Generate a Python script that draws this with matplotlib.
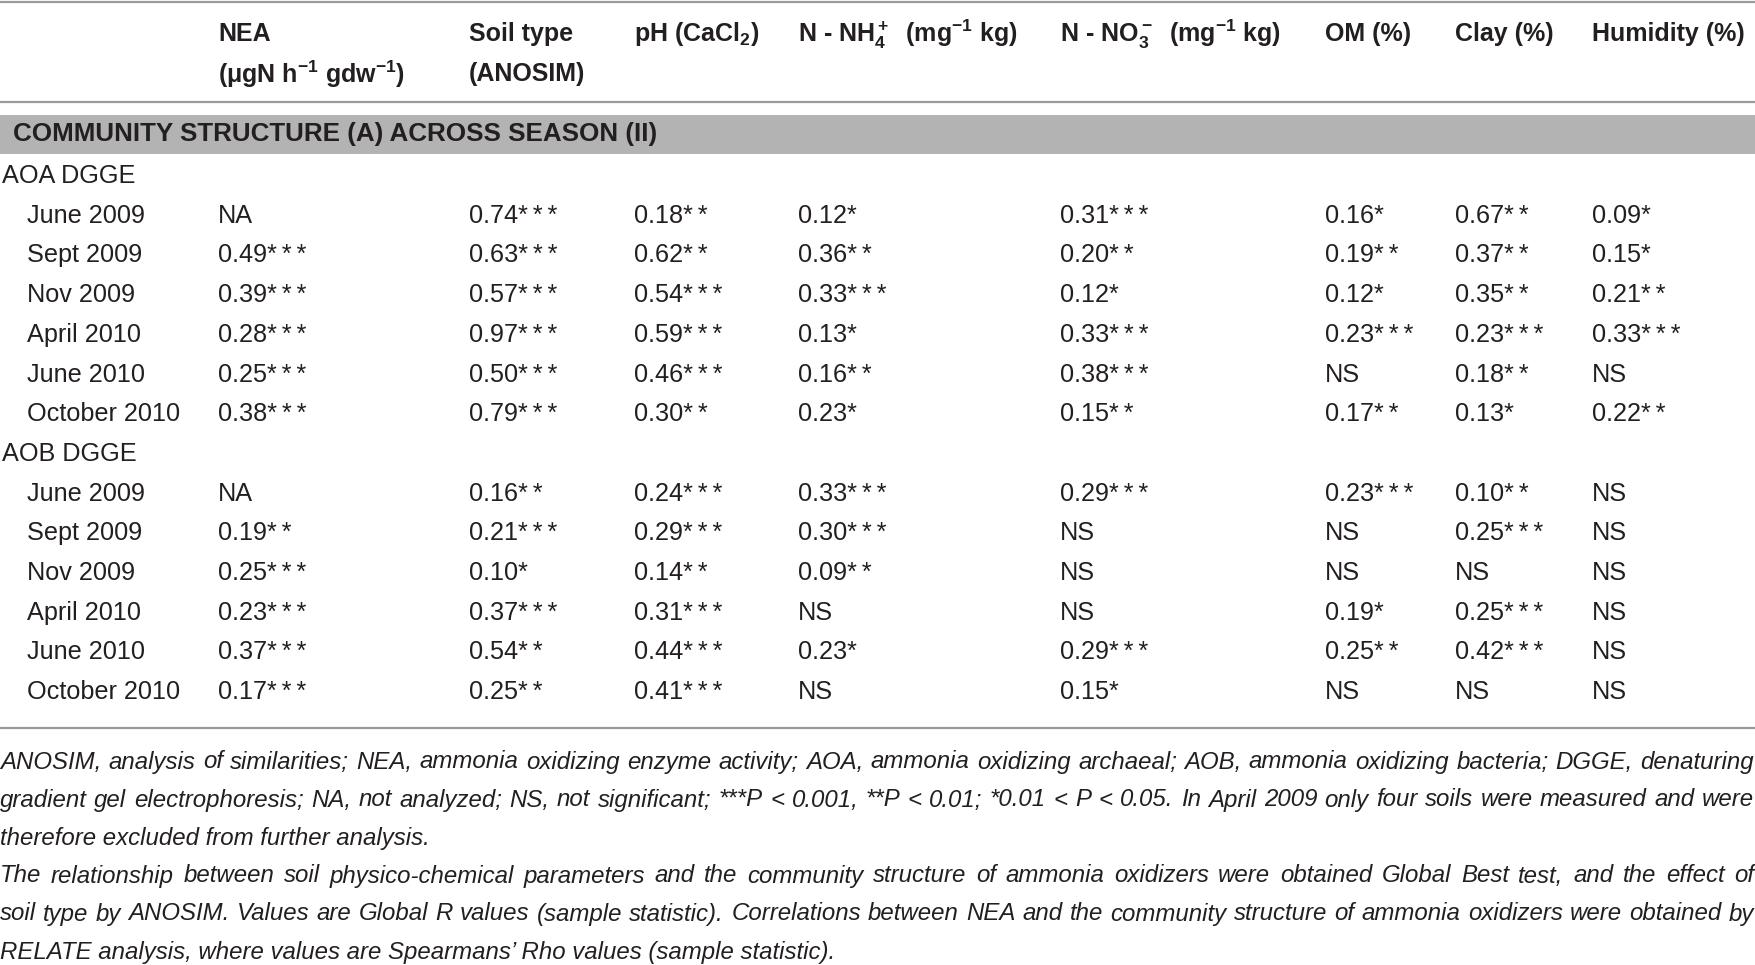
import matplotlib
matplotlib.use("Agg")
import matplotlib.pyplot as plt

# column headers (two lines each)
headers = [
    "NEA\n(μgN h$^{-1}$ gdw$^{-1}$)",
    "Soil type\n(ANOSIM)",
    "pH (CaCl$_2$)",
    "N - NH$_4^+$  (mg$^{-1}$ kg)",
    "N - NO$_3^-$  (mg$^{-1}$ kg)",
    "OM (%)",
    "Clay (%)",
    "Humidity (%)",
]
section_title = "COMMUNITY STRUCTURE (A) ACROSS SEASON (II)"
groups = ["AOA DGGE", "AOB DGGE"]
months = ["June 2009", "Sept 2009", "Nov 2009", "April 2010", "June 2010", "October 2010"]

aoa_rows = [
    ["NA", "0.74***", "0.18**", "0.12*", "0.31***", "0.16*", "0.67**", "0.09*"],
    ["0.49***", "0.63***", "0.62**", "0.36**", "0.20**", "0.19**", "0.37**", "0.15*"],
    ["0.39***", "0.57***", "0.54***", "0.33***", "0.12*", "0.12*", "0.35**", "0.21**"],
    ["0.28***", "0.97***", "0.59***", "0.13*", "0.33***", "0.23***", "0.23***", "0.33***"],
    ["0.25***", "0.50***", "0.46***", "0.16**", "0.38***", "NS", "0.18**", "NS"],
    ["0.38***", "0.79***", "0.30**", "0.23*", "0.15**", "0.17**", "0.13*", "0.22**"],
]
aob_rows = [
    ["NA", "0.16**", "0.24***", "0.33***", "0.29***", "0.23***", "0.10**", "NS"],
    ["0.19**", "0.21***", "0.29***", "0.30***", "NS", "NS", "0.25***", "NS"],
    ["0.25***", "0.10*", "0.14**", "0.09**", "NS", "NS", "NS", "NS"],
    ["0.23***", "0.37***", "0.31***", "NS", "NS", "0.19*", "0.25***", "NS"],
    ["0.37***", "0.54**", "0.44***", "0.23*", "0.29***", "0.25**", "0.42***", "NS"],
    ["0.17***", "0.25**", "0.41***", "NS", "0.15*", "NS", "NS", "NS"],
]

footnote_lines = [
    "ANOSIM, analysis of similarities; NEA, ammonia oxidizing enzyme activity; AOA, ammonia oxidizing archaeal; AOB, ammonia oxidizing bacteria; DGGE, denaturing",
    "gradient gel electrophoresis; NA, not analyzed; NS, not significant; ***P < 0.001, **P < 0.01; *0.01 < P < 0.05. In April 2009 only four soils were measured and were",
    "therefore excluded from further analysis.",
    "The relationship between soil physico-chemical parameters and the community structure of ammonia oxidizers were obtained Global Best test, and the effect of",
    "soil type by ANOSIM. Values are Global R values (sample statistic). Correlations between NEA and the community structure of ammonia oxidizers were obtained by",
    "RELATE analysis, where values are Spearmans’ Rho values (sample statistic).",
]
justified = [True, True, False, True, True, False]

# layout (pixels)
W, H = 1756, 965
col_x = [218, 469, 634, 798, 1060, 1325, 1455, 1592]
head_font = ["Liberation Sans Narrow", "Liberation Sans", "DejaVu Sans"]
body_font = ["Liberation Sans", "DejaVu Sans"]
ink = "#231f20"
rule = "#9a9a9a"

plt.rcParams["mathtext.fontset"] = "custom"
plt.rcParams["mathtext.rm"] = "Liberation Sans:bold"
plt.rcParams["mathtext.it"] = "Liberation Sans:bold"
plt.rcParams["mathtext.bf"] = "Liberation Sans:bold"


def stars(s):
    # spread the significance asterisks a little, as in the print
    return s.replace("*", "*\u2009").rstrip("\u2009")


fig = plt.figure(figsize=(W / 100, H / 100), dpi=100)
ax = fig.add_axes([0, 0, 1, 1])
ax.set_xlim(0, W)
ax.set_ylim(H, 0)
ax.axis("off")

# rules and band
ax.plot([0, W], [2, 2], color=rule, lw=1.6)
ax.plot([0, W], [102, 102], color=rule, lw=1.6)
ax.plot([0, W], [728, 728], color=rule, lw=1.6)
ax.fill_between([0, W], 115, 154, color="#b3b3b3", lw=0)

# header
for x, h in zip(col_x, headers):
    parts = h.split("\n")
    for k, p in enumerate(parts):
        ax.text(x, 34 + 40 * k, p, ha="left", va="center", fontsize=18,
                fontweight="bold", family=head_font, color=ink)

ax.text(13, 134, section_title, ha="left", va="center", fontsize=18.7,
        fontweight="bold", family=head_font, color=ink)

# body
row_y = 176
step = 39.7
for g, rows in zip(groups, [aoa_rows, aob_rows]):
    ax.text(2, row_y, g, ha="left", va="center", fontsize=18.2,
            family=body_font, color=ink)
    row_y += step
    for m, vals in zip(months, rows):
        ax.text(27, row_y, m, ha="left", va="center", fontsize=18.2,
                family=body_font, color=ink)
        for x, v in zip(col_x, vals):
            ax.text(x, row_y, stars(v), ha="left", va="center", fontsize=18.2,
                    family=body_font, color=ink)
        row_y += step

# footnotes, justified to full width
renderer = fig.canvas.get_renderer()
foot_y = 762
for line, just in zip(footnote_lines, justified):
    words = line.split(" ")
    if not just:
        ax.text(0, foot_y, line, ha="left", va="center", fontsize=17.3,
                style="italic", family=body_font, color=ink)
    else:
        texts = [ax.text(0, foot_y, w, ha="left", va="center", fontsize=17.3,
                         style="italic", family=body_font, color=ink) for w in words]
        widths = [t.get_window_extent(renderer).width for t in texts]
        gap = (W - 2 - sum(widths)) / (len(words) - 1)
        x = 0
        for t, wd in zip(texts, widths):
            t.set_x(x)
            x += wd + gap
    foot_y += 38

fig.savefig("out.png", dpi=100, facecolor="white")
